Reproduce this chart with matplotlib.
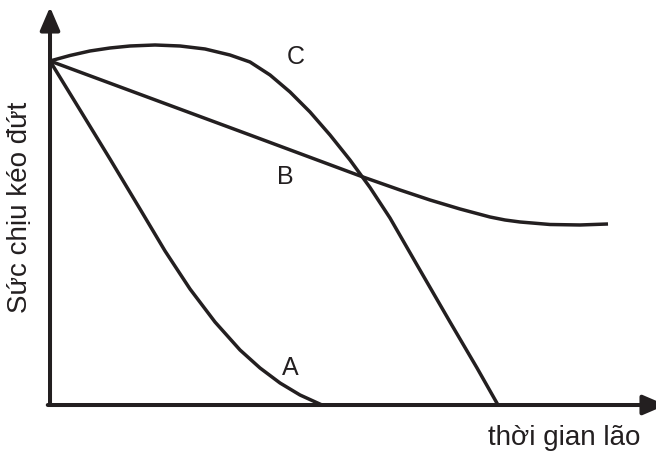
import matplotlib.pyplot as plt

# curve values (time, strength)
a_time = [0, 0.536, 1.071, 1.607, 2.054, 2.500, 2.946, 3.393, 3.750, 4.107,
          4.464, 4.857]
a_strength = [10.0, 8.576, 7.151, 5.698, 4.477, 3.372, 2.413, 1.599, 1.076,
              0.640, 0.291, 0.0]

b_time = [0, 1.786, 3.571, 5.589, 6.250, 6.786, 7.321, 7.857, 8.125, 8.393,
          8.929, 9.464, 9.964]
b_strength = [10.0, 8.924, 7.849, 6.628, 6.250, 5.959, 5.698, 5.465, 5.378,
              5.320, 5.247, 5.233, 5.262]

c_time = [0, 0.357, 0.714, 1.071, 1.429, 1.875, 2.321, 2.768, 3.214, 3.571,
          3.929, 4.286, 4.643, 5.000, 5.357, 5.714, 6.071, 6.554, 7.143,
          7.625, 8.000]
c_strength = [10.0, 10.160, 10.291, 10.378, 10.436, 10.465, 10.436, 10.349,
              10.174, 9.971, 9.593, 9.099, 8.517, 7.849, 7.122, 6.323, 5.436,
              4.070, 2.413, 1.076, 0.0]

curve_labels = ['A', 'B', 'C']
label_pos = [(4.29, 1.10), (4.20, 6.66), (4.38, 10.15)]

ink = '#231f20'
font = 'Liberation Sans'

fig = plt.figure(figsize=(6.56, 4.52), dpi=100)
ax = fig.add_axes([0, 0, 1, 1])
ax.set_xlim(-0.893, 10.821)
ax.set_ylim(-1.337, 11.802)
ax.axis('off')

# axes drawn as arrows
arrow = dict(arrowstyle='-|>,head_length=1.4,head_width=0.6', color=ink,
             lw=2.9, shrinkA=0, shrinkB=0, mutation_scale=10)
ax.annotate('', xy=(0, 11.57), xytext=(0, 0), arrowprops=arrow,
            annotation_clip=False)
ax.annotate('', xy=(11.0, 0), xytext=(-0.04, 0), arrowprops=arrow,
            annotation_clip=False)

for t, s in [(a_time, a_strength), (b_time, b_strength), (c_time, c_strength)]:
    ax.plot(t, s, color=ink, lw=2.5, solid_joinstyle='round',
            solid_capstyle='butt')

for name, (x, y) in zip(curve_labels, label_pos):
    ax.text(x, y, name, fontsize=18, family=font, color=ink,
            ha='center', va='center')

ax.text(-0.54, 5.78, 'Sức chịu kéo đứt', rotation=90, fontsize=20,
        family=font, color=ink, ha='center', va='center')
ax.text(10.54, -0.93, 'thời gian lão', fontsize=20, family=font,
        color=ink, ha='right', va='center')

fig.savefig('out.png', dpi=100)
